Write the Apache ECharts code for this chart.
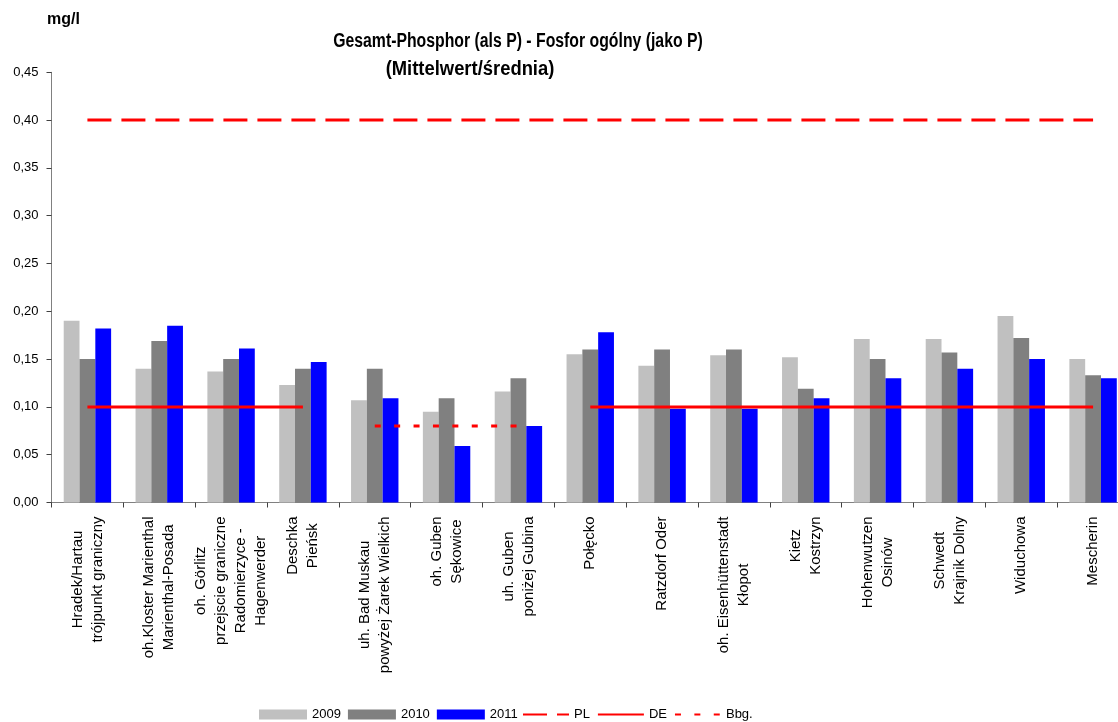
<!DOCTYPE html>
<html><head><meta charset="utf-8">
<script src="https://cdn.jsdelivr.net/npm/echarts@6/dist/echarts.min.js"></script>
<style>html,body{margin:0;padding:0;background:#fff}#c{width:1118px;height:722px}</style>
</head><body><div id="c"></div>
<script>
const categories = [
  'Hradek/Hartau\ntrójpunkt graniczny',
  'oh.Kloster Marienthal\nMarienthal-Posada',
  'oh. Görlitz\nprzejscie graniczne\nRadomierzyce -\nHagenwerder',
  'Deschka\nPieńsk',
  'uh. Bad Muskau\npowyżej Żarek Wielkich',
  'oh. Guben\nSękowice',
  'uh. Guben\nponiżej Gubina',
  'Połęcko',
  'Ratzdorf Oder',
  'oh. Eisenhüttenstadt\nKłopot',
  'Kietz\nKostrzyn',
  'Hohenwutzen\nOsinów',
  'Schwedt\nKrajnik Dolny',
  'Widuchowa',
  'Mescherin'
];
const v2009 = [0.190, 0.140, 0.137, 0.123, 0.107, 0.095, 0.116, 0.155, 0.143, 0.154, 0.152, 0.171, 0.171, 0.195, 0.150];
const v2010 = [0.150, 0.169, 0.150, 0.140, 0.140, 0.109, 0.130, 0.160, 0.160, 0.160, 0.119, 0.150, 0.157, 0.172, 0.133];
const v2011 = [0.182, 0.185, 0.161, 0.147, 0.109, 0.059, 0.080, 0.178, 0.098, 0.098, 0.109, 0.130, 0.140, 0.150, 0.130];
const limitPL  = [0.40, 0.40, 0.40, 0.40, 0.40, 0.40, 0.40, 0.40, 0.40, 0.40, 0.40, 0.40, 0.40, 0.40, 0.40];
const limitDE  = [0.10, 0.10, 0.10, 0.10, null, null, null, 0.10, 0.10, 0.10, 0.10, 0.10, 0.10, 0.10, 0.10];
const limitBbg = [null, null, null, null, 0.08, 0.08, 0.08, null, null, null, null, null, null, null, null];
const yTickLabels = ['0,00','0,05','0,10','0,15','0,20','0,25','0,30','0,35','0,40','0,45'];
const seriesNames = ['2009','2010','2011','PL','DE','Bbg.'];

const SANS = "'Liberation Sans',Arial,sans-serif";

const chart = echarts.init(document.getElementById('c'), null, {renderer:'canvas'});
const lineBase = {type:'line', symbol:'none', showSymbol:false, connectNulls:false, z:5, silent:true, animation:false};
const hiddenSym = {color:'rgba(0,0,0,0)', borderColor:'rgba(0,0,0,0)', borderWidth:0};
const legendText = {fontFamily:SANS, fontSize:13, color:'#000'};
chart.setOption({
  animation:false,
  backgroundColor:'#fff',
  grid:{left:51.5, right:-11, top:72.3, bottom:219.5, containLabel:false, outerBoundsMode:'none'},
  graphic:[
    {type:'text', left:47, top:12, style:{text:'mg/l', font:"bold 16px "+SANS, fill:'#000'}},
    {type:'text', x:518, y:41, scaleX:0.79, style:{text:'Gesamt-Phosphor (als P) - Fosfor ogólny (jako P)', font:"bold 20px "+SANS, fill:'#000', align:'center', verticalAlign:'middle'}},
    {type:'text', x:470, y:69, scaleX:0.92, style:{text:'(Mittelwert/średnia)', font:"bold 20px "+SANS, fill:'#000', align:'center', verticalAlign:'middle'}}
  ],
  legend:[
    {
      left:259, top:708, padding:0, itemWidth:48, itemHeight:10, itemGap:7,
      textStyle:legendText,
      data:[
        {name:seriesNames[0], icon:'rect'},
        {name:seriesNames[1], icon:'rect'},
        {name:seriesNames[2], icon:'rect'}
      ]
    },
    {
      left:522, top:708, padding:0, itemWidth:46, itemHeight:10, itemGap:7,
      textStyle:legendText,
      data:[
        {name:seriesNames[3], itemStyle:hiddenSym},
        {name:seriesNames[4], itemStyle:hiddenSym},
        {name:seriesNames[5], itemStyle:hiddenSym}
      ]
    }
  ],
  xAxis:{
    type:'category', data:categories, boundaryGap:true,
    axisLine:{lineStyle:{color:'#808080', width:1}},
    axisTick:{show:true, length:5, lineStyle:{color:'#404040'}},
    axisLabel:{
      interval:0, rotate:90, margin:14, color:'#000',
      fontFamily:SANS, fontSize:15, lineHeight:20,
      formatter:function(v){ return v.split('\n').map(function(s){return '{c|'+s+'}';}).join('\n'); },
      rich:{c:{align:'center', fontFamily:SANS, fontSize:15, lineHeight:20, color:'#000'}}
    },
    splitLine:{show:false}
  },
  yAxis:{
    type:'value', min:0, max:0.45, interval:0.05,
    axisLine:{show:true, lineStyle:{color:'#808080', width:1}},
    axisTick:{show:true, length:5, lineStyle:{color:'#404040'}},
    axisLabel:{margin:13, color:'#000', fontFamily:SANS, fontSize:13,
      formatter:function(v){ return yTickLabels[Math.round(v/0.05)]; }},
    splitLine:{show:false}
  },
  series:[
    {name:seriesNames[0], type:'bar', data:v2009, barGap:'0%', barCategoryGap:'34%', itemStyle:{color:'#C0C0C0'}},
    {name:seriesNames[1], type:'bar', data:v2010, barGap:'0%', barCategoryGap:'34%', itemStyle:{color:'#808080'}},
    {name:seriesNames[2], type:'bar', data:v2011, barGap:'0%', barCategoryGap:'34%', itemStyle:{color:'#0000FF'}},
    Object.assign({name:seriesNames[3], data:limitPL, lineStyle:{color:'#FF0000', width:3, type:[24,10]}, itemStyle:{color:'#FF0000'}}, lineBase),
    Object.assign({name:seriesNames[4], data:limitDE, lineStyle:{color:'#FF0000', width:3, type:'solid'}, itemStyle:{color:'#FF0000'}}, lineBase),
    Object.assign({name:seriesNames[5], data:limitBbg, lineStyle:{color:'#FF0000', width:3, type:[6,13.4]}, itemStyle:{color:'#FF0000'}}, lineBase)
  ]
});
</script>
</body></html>
